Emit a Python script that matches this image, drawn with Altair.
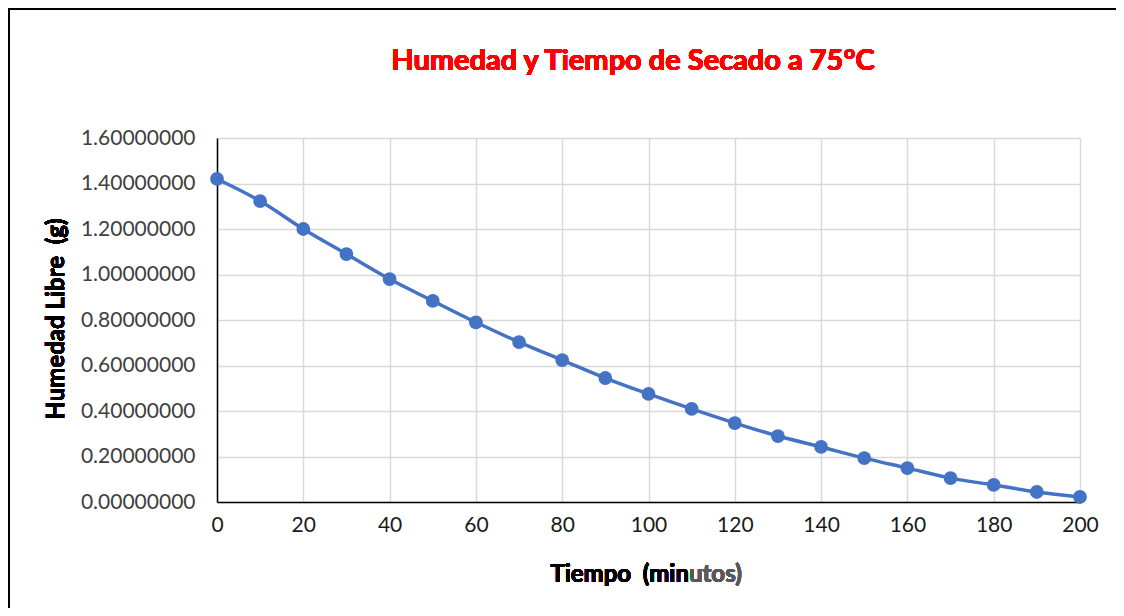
import altair as alt
import pandas as pd

tiempo = [0, 10, 20, 30, 40, 50, 60, 70, 80, 90, 100, 110, 120, 130, 140, 150, 160, 170, 180, 190, 200]
humedad = [1.420, 1.323, 1.200, 1.090, 0.980, 0.884, 0.790, 0.703, 0.624, 0.545, 0.475,
           0.409, 0.347, 0.290, 0.242, 0.193, 0.149, 0.105, 0.075, 0.044, 0.022]

df = pd.DataFrame({"t": tiempo, "h": humedad})

W, H = 863, 364
FONT = "Lato"
LBL = 21

x = alt.X("t:Q", scale=alt.Scale(domain=[0, 200], nice=False),
          axis=alt.Axis(values=list(range(0, 201, 20)), title=None, labelFontSize=LBL,
                        labelColor="#1a1a1a", labelFont=FONT, labelPadding=12, labelFlush=False,
                        domainColor="black", domainWidth=1.5, ticks=False,
                        gridColor="#d9d9d9", gridWidth=1.5))
y = alt.Y("h:Q", scale=alt.Scale(domain=[0, 1.6], nice=False),
          axis=alt.Axis(values=[0, 0.2, 0.4, 0.6, 0.8, 1.0, 1.2, 1.4, 1.6], format=".8f",
                        title=None, labelFontSize=LBL, labelColor="#404040", labelFont=FONT,
                        labelPadding=22, labelFlush=False, domainColor="black", domainWidth=1.5,
                        ticks=False, gridColor="#d9d9d9", gridWidth=1.5))

line = alt.Chart(df).mark_line(color="#4472C4", strokeWidth=3.5, interpolate="monotone").encode(x=x, y=y)
pts = alt.Chart(df).mark_circle(color="#4472C4", size=190, opacity=1).encode(x="t:Q", y="h:Q")

top_bar = alt.Chart(df).mark_rect(color="black", opacity=1).encode(
    x=alt.value(8 - 217), x2=alt.value(1116 - 217), y=alt.value(8 - 138), y2=alt.value(10 - 138))
left_bar = alt.Chart(df).mark_rect(color="black", opacity=1).encode(
    x=alt.value(8 - 217), x2=alt.value(10 - 217), y=alt.value(8 - 138), y2=alt.value(616 - 138))

title = alt.Chart(df).mark_text(text="Humedad y Tiempo de Secado a 75°C", color="#FF0000",
                                fontSize=29, fontWeight="bold", font=FONT).encode(
    x=alt.value(633 - 217), y=alt.value(61 - 138))

ytitle = alt.Chart(df).mark_text(text="Humedad Libre\u00a0\u00a0(g)", color="black", angle=270,
                                 fontSize=24, fontWeight="bold", font=FONT).encode(
    x=alt.value(57 - 217), y=alt.value(319 - 138))

xt1 = alt.Chart(df).mark_text(text="Tiempo\u00a0\u00a0(min", color="black", align="right",
                              fontSize=24, fontWeight="bold", font=FONT).encode(
    x=alt.value(689 - 217), y=alt.value(575 - 138))
xt2 = alt.Chart(df).mark_text(text="utos)", color="#595959", align="left",
                              fontSize=24, fontWeight="bold", font=FONT).encode(
    x=alt.value(689 - 217), y=alt.value(575 - 138))

chart = alt.layer(top_bar, left_bar, line, pts, title, ytitle, xt1, xt2).properties(
    width=W, height=H,
    autosize=alt.AutoSizeParams(type="none"),
    padding={"left": 209, "top": 130, "right": 36, "bottom": 106},
).configure_view(stroke=None).configure(background="white")

chart.save("out.html", embed_options={"renderer": "svg", "actions": False})
